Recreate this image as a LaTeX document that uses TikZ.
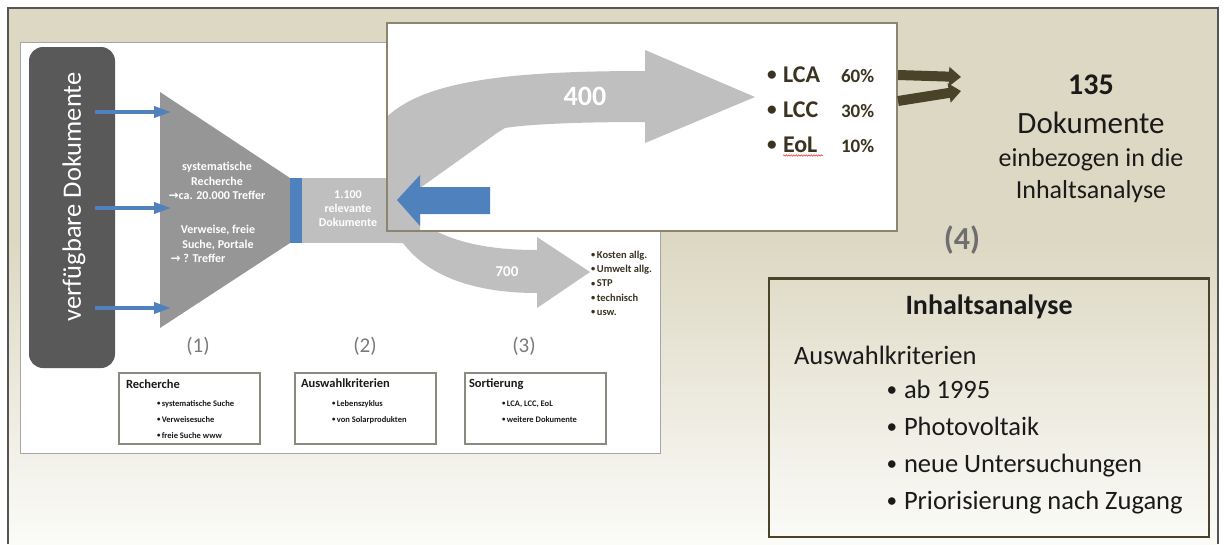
\documentclass[tikz,border=0pt]{standalone}
\usepackage{fontspec}
\setmainfont{Carlito}
\newfontfamily\djv{DejaVu Sans}
\usetikzlibrary{arrows.meta,decorations.pathmorphing}
\definecolor{beige}{HTML}{DDD8C3}
\definecolor{beigelow}{HTML}{FBFBF8}
\definecolor{framegray}{HTML}{555555}
\definecolor{accblue}{HTML}{4F81BD}
\definecolor{funnelgray}{HTML}{969696}
\definecolor{lightgr}{HTML}{BFBFBF}
\definecolor{darkbox}{HTML}{595959}
\definecolor{olivedark}{HTML}{4A4229}
\definecolor{txtbrown}{HTML}{3B3322}
\definecolor{numgray}{HTML}{7A7A7A}
\definecolor{slideborder}{HTML}{A6A6A6}
\definecolor{smallbox}{HTML}{8C8A80}
\definecolor{ovlborder}{HTML}{8B8670}
\definecolor{darktext}{HTML}{1A1A1A}
\newcommand{\fsz}[2]{\fontsize{#1}{#2}\selectfont}
\newcommand{\bul}{\raisebox{0.07em}{\scalebox{0.8}{•}}}
\begin{document}
\begin{tikzpicture}[x=1pt,y=-1pt,
  every node/.style={inner sep=0pt,outer sep=0pt},
  bluearr/.style={draw=accblue,line width=3.5pt,-{Triangle[length=17pt,width=11pt]}},
  brownarr/.style={draw=olivedark,line width=10pt,-{Triangle[length=12pt,width=19pt]}},
  whitebold/.style={text=white,font=\bfseries\fsz{12}{14.3},align=center},
  smalltitle/.style={anchor=base west,text=darktext,font=\bfseries\fsz{12.5}{15}},
  smallitem/.style={anchor=base west,text=darktext,font=\bfseries\fsz{8.5}{10}},
  stepnum/.style={text=numgray,font=\fsz{21}{24}},
  smallframe/.style={draw=smallbox,line width=1.2pt,fill=white,minimum width=141pt,minimum height=71pt},
  bigtext/.style={text=darktext}
]
\useasboundingbox (0,0) rectangle (1224,544);
% background
\fill[white] (0,0) rectangle (1224,544);
\fill[beige] (8,8) rectangle (1218,544);
\shade[top color=beige,bottom color=beigelow] (8,240) rectangle (1218,544);
\draw[framegray,line width=2pt] (8,544) -- (8,8) -- (1218,8) -- (1218,544);

% slide
\node[fill=white,draw=slideborder,line width=1pt,minimum width=640pt,minimum height=411pt] (slide) at (340,247.5) {};

% source box
\node[fill=darkbox,rounded corners=14pt,minimum width=86pt,minimum height=321pt] (srcbox) at (72,207.5) {};
\node[rotate=90,text=white,font=\fsz{26.5}{32}] (srctext) at (74,197) {verfügbare Dokumente};

% funnel
\fill[funnelgray] (160,92) -- (290,178) -- (290,243) -- (160,328) -- cycle;
\node[whitebold] (f1) at (217,181) {systematische\\Recherche\\{\djv\fsz{12}{14.3}→}ca. 20.000 Treffer};
\node[whitebold] (f2) at (218,244) {Verweise, freie\\Suche, Portale\\\hspace*{-40pt}{\djv\fsz{12}{14.3}→} ? Treffer};

% small blue arrows
\coordinate (s1) at (95,112);  \coordinate (e1) at (171,112);
\coordinate (s2) at (95,208);  \coordinate (e2) at (171,208);
\coordinate (s3) at (95,308);  \coordinate (e3) at (171,308);
\draw[bluearr] (s1) -- (e1);
\draw[bluearr] (s2) -- (e2);
\draw[bluearr] (s3) -- (e3);

% 700 arrow
\fill[lightgr] (403,243) .. controls (430,279) and (480,293) .. (537,293)
  -- (537,308) -- (590,272) -- (537,237) -- (537,250)
  .. controls (482,250) and (447,240) .. (420,222) -- (420,200) -- (395,200) -- (395,243) -- cycle;
\node[text=white,font=\bfseries\fsz{15}{18}] (n700) at (507,272) {700};

% blue bar and relevant box
\node[fill=accblue,minimum width=12pt,minimum height=65pt] (bar) at (296,210.5) {};
\node[fill=lightgr,minimum width=101pt,minimum height=65pt] (relbox) at (352.5,210.5) {};
\node[whitebold] (reltext) at (348,208.5) {1.100\\relevante\\Dokumente};

% list next to 700
\foreach \t [count=\i] in {Kosten allg.,Umwelt allg.,STP,technisch,usw.}{
  \node[anchor=base west,text=txtbrown,font=\bfseries\fsz{10.5}{12}] (l700-\i) at (591,258.5+14.2*\i-14.2) {\bul\,\t};
}

% step numbers
\node[stepnum] (n1) at (198,346) {(1)};
\node[stepnum] (n2) at (365,346) {(2)};
\node[stepnum] (n3) at (524,346) {(3)};

% small boxes
\node[smallframe] (recbox) at (189.5,408.5) {};
\node[smallframe] (auswbox) at (365.5,408.5) {};
\node[smallframe] (sortbox) at (535.5,408.5) {};
\node[smalltitle] (rect) at (126,388) {Recherche};
\node[smallitem] (rec1) at (157,406) {\bul\,systematische Suche};
\node[smallitem] (rec2) at (157,422) {\bul\,Verweisesuche};
\node[smallitem] (rec3) at (157,438) {\bul\,freie Suche www};
\node[smalltitle] (auswt) at (301,387) {Auswahlkriterien};
\node[smallitem] (ausw1) at (332,406) {\bul\,Lebenszyklus};
\node[smallitem] (ausw2) at (332,422) {\bul\,von Solarprodukten};
\node[smalltitle] (sortt) at (469,387) {Sortierung};
\node[smallitem] (sort1) at (502,406) {\bul\,LCA, LCC, EoL};
\node[smallitem] (sort2) at (502,422) {\bul\,weitere Dokumente};

% overlay box
\node[fill=white,minimum width=510pt,minimum height=208pt] (ovl) at (642,127) {};
\begin{scope}
  \clip (ovl.south west) rectangle (ovl.north east);
  \fill[lightgr] (380,124) .. controls (415,82) and (500,71) .. (645,71)
    -- (645,50) -- (755,97) -- (645,143) -- (645,122)
    .. controls (580,122) and (530,124) .. (505,128) -- (497,133) -- (420,188)
    -- (420,240) -- (380,240) -- cycle;
\end{scope}
\fill[accblue] (397,200) -- (420,175) -- (420,187) -- (490,187) -- (490,214) -- (420,214) -- (420,226) -- cycle;
\draw[ovlborder,line width=1.8pt] (ovl.south west) rectangle (ovl.north east);
\node[text=white,font=\bfseries\fsz{28}{32}] (n400) at (585,96) {400};

% LCA list
\foreach \t/\p [count=\i] in {LCA/60\%,LCC/30\%,EoL/10\%}{
  \node[anchor=base,text=txtbrown,font=\bfseries\fsz{24}{28}] (bul-\i) at (772,82+35*\i-35) {\bul};
  \node[anchor=base west,text=txtbrown,font=\bfseries\fsz{24}{28}] (lab-\i) at (783,82+35*\i-35) {\t};
  \node[anchor=base west,text=txtbrown,font=\bfseries\fsz{19}{22}] (pct-\i) at (841,82+35*\i-35) {\p};
}
\draw[red!85,line width=0.5pt,decorate,decoration={snake,amplitude=0.7pt,segment length=2.5pt}] (783,155.5) -- (823,155.5);

% brown arrows
\coordinate (b1s) at (898,75);  \coordinate (b1e) at (961,77);
\coordinate (b2s) at (898,101); \coordinate (b2e) at (961,91);
\draw[brownarr] (b1s) -- (b1e);
\draw[brownarr] (b2s) -- (b2e);

% right panel texts
\node[anchor=base,bigtext,font=\bfseries\fsz{30}{34}] (t135) at (1091,94) {135};
\node[anchor=base,bigtext,font=\fsz{31}{36}] (tdok) at (1091,133) {Dokumente};
\node[anchor=base,bigtext,font=\fsz{26}{30}] (tein) at (1091,166) {einbezogen in die};
\node[anchor=base,bigtext,font=\fsz{26}{30}] (tinh) at (1091,198) {Inhaltsanalyse};
\node[text=numgray!90!black,font=\bfseries\fsz{32}{36}] (n4) at (962,240) {(4)};

% Inhaltsanalyse box
\node[draw=olivedark,line width=2.5pt,minimum width=440pt,minimum height=258.5pt] (inhbox) at (989,407.75) {};
\node[anchor=base,bigtext,font=\bfseries\fsz{28}{32}] (inht) at (989,314) {Inhaltsanalyse};
\node[anchor=base west,bigtext,font=\fsz{26.5}{30}] (inha) at (794,364) {Auswahlkriterien};
\foreach \t [count=\i] in {ab 1995,Photovoltaik,neue Untersuchungen,Priorisierung nach Zugang}{
  \node[anchor=base,bigtext,font=\fsz{26.5}{30}] (ib-\i) at (892,398.5+36.9*\i-36.9) {\bul};
  \node[anchor=base west,bigtext,font=\fsz{26.5}{30}] (it-\i) at (904,398.5+36.9*\i-36.9) {\t};
}
\end{tikzpicture}
\end{document}
